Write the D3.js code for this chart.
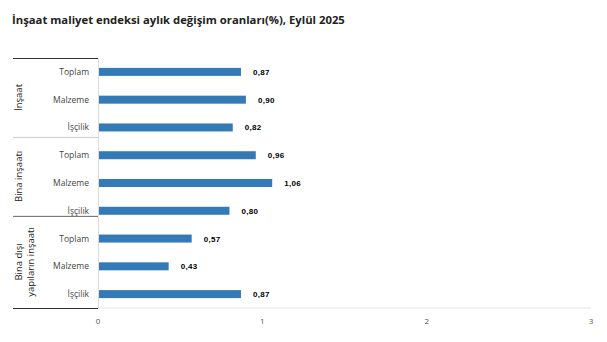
<!DOCTYPE html>
<html>
<head>
<meta charset="utf-8">
<script src="https://cdn.jsdelivr.net/npm/d3@7"></script>
<style>
  body { margin: 0; background: #fff; }
  text { font-family: "Open Sans", sans-serif; }
</style>
</head>
<body>
<div id="container"></div>
<script>
const groups = ["İnşaat", "Bina inşaatı", "Bina dışı|yapıların inşaatı"];
const items = ["Toplam", "Malzeme", "İşçilik"];
const values = [0.87, 0.90, 0.82, 0.96, 1.06, 0.80, 0.57, 0.43, 0.87];
const xTicks = [0, 1, 2, 3];

const width = 607;
const height = 342;
const marginTop = 58;
const marginBottom = 34;
const marginLeft = 98;
const marginRight = 16;

const rows = values.map((v, i) => ({
  i,
  group: Math.floor(i / items.length),
  item: items[i % items.length],
  value: v
}));

const x = d3.scaleLinear().domain([0, 3]).range([marginLeft, width - marginRight]);
const y = d3.scaleBand().domain(rows.map(d => d.i)).range([marginTop, height - marginBottom]);

const svg = d3.select("#container").append("svg")
  .attr("width", width)
  .attr("height", height);

// title
svg.append("text")
  .attr("x", 12)
  .attr("y", 24)
  .attr("font-size", 11.3)
  .attr("font-weight", "bold")
  .attr("fill", "#222")
  .text("İnşaat maliyet endeksi aylık değişim oranları(%), Eylül 2025");

// bottom gridline
svg.append("line")
  .attr("x1", x(0)).attr("x2", x(3))
  .attr("y1", height - marginBottom).attr("y2", height - marginBottom)
  .attr("stroke", "#e6e6e6");

// axis line
svg.append("line")
  .attr("x1", x(0) + 0.5).attr("x2", x(0) + 0.5)
  .attr("y1", marginTop).attr("y2", height - marginBottom)
  .attr("stroke", "#dcdcdc");

// bars
svg.append("g")
  .selectAll("rect")
  .data(rows)
  .join("rect")
  .attr("x", x(0) + 1)
  .attr("y", d => y(d.i) + y.bandwidth() / 2 - 4)
  .attr("width", d => x(d.value) - x(0) - 1)
  .attr("height", 8)
  .attr("fill", "#337ab7");

// value labels
svg.append("g")
  .selectAll("text")
  .data(rows)
  .join("text")
  .attr("x", d => x(d.value) + 12)
  .attr("y", d => y(d.i) + y.bandwidth() / 2 + 3)
  .style("font-family", "'Liberation Sans', Arial, sans-serif")
  .attr("font-size", 8)
  .attr("font-weight", "bold")
  .attr("letter-spacing", 0.3)
  .attr("fill", "#000")
  .text(d => d3.format(".2f")(d.value).replace(".", ","));

// category labels
svg.append("g")
  .selectAll("text")
  .data(rows)
  .join("text")
  .attr("x", marginLeft - 9)
  .attr("y", d => y(d.i) + y.bandwidth() / 2 + 3)
  .attr("text-anchor", "end")
  .attr("font-size", 8.5)
  .attr("fill", "#444")
  .text(d => d.item);

// group separator lines (grouped-category style, slightly shifted up)
const sepY = k => k === 0 ? marginTop
  : k === groups.length ? height - marginBottom
  : y(k * items.length) - 4.4 * k;
const sepColors = ["#333", "#ccc", "#666", "#333"];
svg.append("g")
  .selectAll("line")
  .data(d3.range(groups.length + 1))
  .join("line")
  .attr("x1", 13).attr("x2", marginLeft)
  .attr("y1", d => sepY(d) + 0.5).attr("y2", d => sepY(d) + 0.5)
  .attr("stroke", (d, i) => sepColors[i]);

// group labels, rotated
const gl = svg.append("g")
  .selectAll("text")
  .data(groups)
  .join("text")
  .attr("transform", (d, k) => `translate(22,${(sepY(k) + sepY(k + 1)) / 2}) rotate(-90)`)
  .attr("text-anchor", "middle")
  .attr("font-size", 9.5)
  .attr("fill", "#222");
gl.each(function(d) {
  const lines = d.split("|");
  d3.select(this).selectAll("tspan")
    .data(lines)
    .join("tspan")
    .attr("x", 0)
    .attr("dy", (l, j) => j === 0 ? 0 : 12)
    .text(l => l);
});

// x tick labels
svg.append("g")
  .selectAll("text")
  .data(xTicks)
  .join("text")
  .attr("x", d => x(d))
  .attr("y", height - marginBottom + 16)
  .attr("text-anchor", "middle")
  .attr("font-size", 8)
  .attr("fill", "#555")
  .text(d => d);
</script>
</body>
</html>
